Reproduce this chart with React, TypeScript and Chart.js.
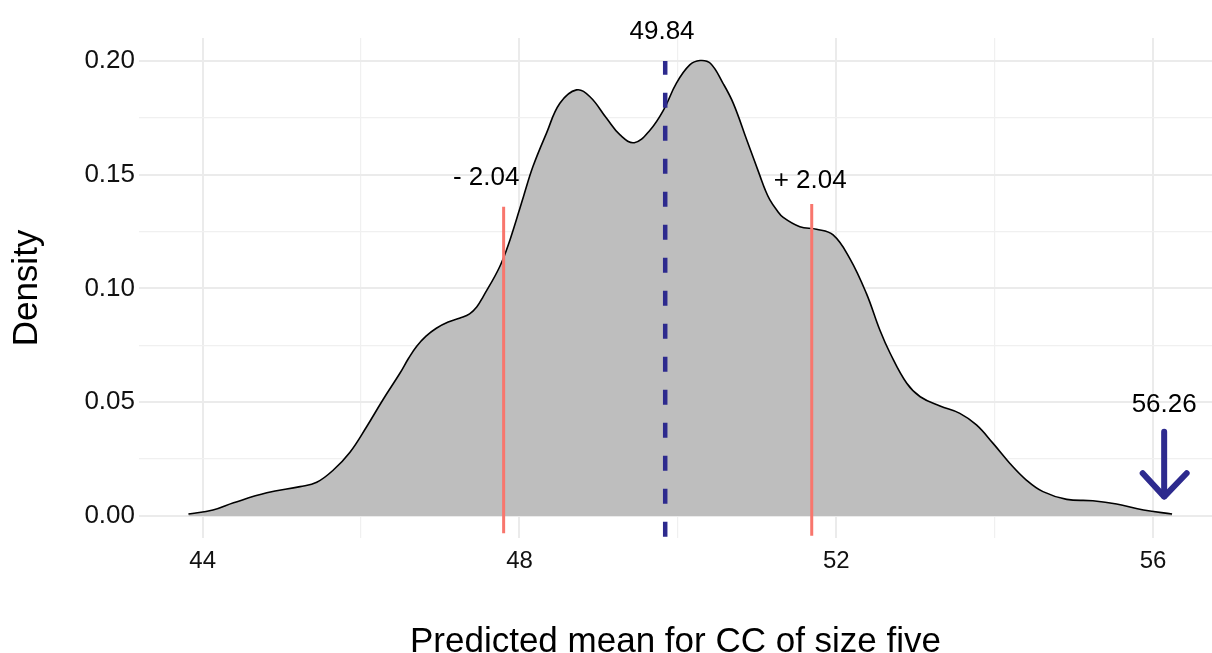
import React, { useEffect, useRef } from 'react';
import { Chart, registerables } from 'chart.js';

Chart.register(...registerables);

// Density curve
const densityX = [
  43.82, 44.13, 44.39, 44.81, 45.23, 45.44, 45.65, 45.86, 46.07, 46.28, 46.49, 46.60,
  46.70, 46.82, 46.95, 47.10, 47.25, 47.37, 47.46, 47.54, 47.75, 47.88, 48.05, 48.17,
  48.34, 48.51, 48.72, 48.89, 49.10, 49.27, 49.45, 49.65, 49.82, 49.98, 50.15, 50.28,
  50.41, 50.57, 50.70, 50.87, 51.04, 51.10, 51.16, 51.25, 51.33, 51.54, 51.75, 51.96,
  52.17, 52.38, 52.55, 52.68, 52.89, 53.06, 53.31, 53.56, 53.77, 53.98, 54.19, 54.40,
  54.61, 54.91, 55.24, 55.54, 55.88, 56.24,
];
const densityY = [
  0.0009, 0.0026, 0.0058, 0.0102, 0.0129, 0.0148, 0.0202, 0.0280, 0.0392, 0.0513, 0.0627, 0.0693,
  0.0745, 0.0790, 0.0825, 0.0852, 0.0870, 0.0888, 0.0918, 0.0963, 0.1095, 0.1213, 0.1403, 0.1535,
  0.1681, 0.1813, 0.1872, 0.1842, 0.1747, 0.1674, 0.1640, 0.1696, 0.1784, 0.1901, 0.1982, 0.2001,
  0.1989, 0.1901, 0.1813, 0.1652, 0.1491, 0.1435, 0.1390, 0.1343, 0.1312, 0.1271, 0.1260, 0.1235,
  0.1132, 0.0978, 0.0817, 0.0715, 0.0583, 0.0524, 0.0483, 0.0451, 0.0400, 0.0319, 0.0232, 0.0158,
  0.0107, 0.0073, 0.0067, 0.0053, 0.0026, 0.0009,
];

// Reference lines
const meanLineX = [49.84, 49.84];
const meanLineY = [-0.0091, 0.1999];
const lowerLineX = [47.8, 47.8];
const lowerLineY = [-0.0076, 0.1359];
const upperLineX = [51.69, 51.69];
const upperLineY = [-0.0087, 0.1371];

// Arrow marking 56.26
const arrowShaftX = [56.14, 56.14];
const arrowShaftY = [0.037, 0.0087];
const arrowHeadX = [55.869, 56.141, 56.424];
const arrowHeadY = [0.0188, 0.0085, 0.0188];

// Text annotations
const labelText = ['49.84', '- 2.04', '+ 2.04', '56.26'];
const labelX = [49.8, 47.58, 51.67, 56.14];
const labelY = [0.2094, 0.1454, 0.144, 0.0458];

// Axes
const xMajorTicks = [44, 48, 52, 56];
const xMinorTicks = [46, 50, 54];
const yMajorTicks = [0, 0.05, 0.1, 0.15, 0.2];
const yMinorTicks = [0.025, 0.075, 0.125, 0.175];
const xMin = 43.196;
const xMax = 56.744;
const yMin = -0.00967;
const yMax = 0.21;

const xTitle = 'Predicted mean for CC of size five';
const yTitle = 'Density';

const FONT = '"Liberation Sans", Arial, Helvetica, sans-serif';
const W = 1212;
const H = 670;

const pts = (xs: number[], ys: number[]) => xs.map((x, i) => ({ x, y: ys[i] }));
const isIn = (arr: number[], v: number) => arr.some((a) => Math.abs(a - v) < 1e-9);

const labelPlugin = {
  id: 'textLabels',
  afterDatasetsDraw(chart: any) {
    const { ctx, scales } = chart;
    const xs = scales.x;
    const ys = scales.y;
    ctx.save();
    ctx.font = `26px ${FONT}`;
    ctx.fillStyle = '#000000';
    ctx.textAlign = 'center';
    ctx.textBaseline = 'alphabetic';
    labelText.forEach((t, i) => {
      ctx.fillText(t, xs.getPixelForValue(labelX[i]), ys.getPixelForValue(labelY[i]));
    });
    ctx.restore();
  },
};

export default function App() {
  const ref = useRef<HTMLCanvasElement | null>(null);

  useEffect(() => {
    if (!ref.current) return;
    const lineBase = {
      type: 'line' as const,
      pointRadius: 0,
      pointHoverRadius: 0,
      fill: false,
      tension: 0,
    };
    const chart = new Chart(ref.current, {
      type: 'line',
      data: {
        datasets: [
          {
            ...lineBase,
            label: 'mean',
            data: pts(meanLineX, meanLineY),
            borderColor: '#2D2A8E',
            borderWidth: 4.5,
            borderDash: [15, 18],
            order: 1,
          },
          {
            ...lineBase,
            label: 'lower',
            data: pts(lowerLineX, lowerLineY),
            borderColor: '#F8766D',
            borderWidth: 3,
            order: 2,
          },
          {
            ...lineBase,
            label: 'upper',
            data: pts(upperLineX, upperLineY),
            borderColor: '#F8766D',
            borderWidth: 3,
            order: 2,
          },
          {
            ...lineBase,
            label: 'arrowShaft',
            data: pts(arrowShaftX, arrowShaftY),
            borderColor: '#2D2A8E',
            borderWidth: 6,
            borderCapStyle: 'round',
            order: 1,
          },
          {
            ...lineBase,
            label: 'arrowHead',
            data: pts(arrowHeadX, arrowHeadY),
            borderColor: '#2D2A8E',
            borderWidth: 6,
            borderCapStyle: 'round',
            borderJoinStyle: 'round',
            order: 1,
          },
          {
            ...lineBase,
            label: 'density',
            data: pts(densityX, densityY),
            borderColor: '#000000',
            borderWidth: 1.6,
            backgroundColor: '#BEBEBE',
            fill: 'origin',
            tension: 0.4,
            order: 10,
          },
        ],
      },
      options: {
        responsive: false,
        animation: false,
        events: [],
        layout: { padding: { top: 38, left: 0, right: 0, bottom: 0 } },
        plugins: {
          legend: { display: false },
          tooltip: { enabled: false },
        },
        scales: {
          x: {
            type: 'linear',
            min: xMin,
            max: xMax,
            border: { display: false },
            afterFit: (scale: any) => {
              scale.height = H - 538;
            },
            afterBuildTicks: (scale: any) => {
              scale.ticks = [...xMajorTicks, ...xMinorTicks]
                .sort((a, b) => a - b)
                .map((value) => ({ value }));
            },
            grid: {
              drawTicks: false,
              color: (ctx: any) => (ctx.tick && isIn(xMajorTicks, ctx.tick.value) ? '#EBEBEB' : '#F0F0F0'),
              lineWidth: (ctx: any) => (ctx.tick && isIn(xMajorTicks, ctx.tick.value) ? 2 : 1.2),
            },
            ticks: {
              autoSkip: false,
              maxRotation: 0,
              padding: 9,
              color: '#111111',
              font: { family: FONT, size: 24 },
              callback: (v: any) => (isIn(xMajorTicks, Number(v)) ? String(v) : ''),
            },
            title: {
              display: true,
              text: xTitle,
              color: '#000000',
              font: { family: FONT, size: 35 },
              padding: { top: 0, bottom: 7 },
            },
          },
          y: {
            type: 'linear',
            min: yMin,
            max: yMax,
            border: { display: false },
            afterFit: (scale: any) => {
              scale.width = 139;
            },
            afterBuildTicks: (scale: any) => {
              scale.ticks = [...yMajorTicks, ...yMinorTicks]
                .sort((a, b) => a - b)
                .map((value) => ({ value }));
            },
            grid: {
              drawTicks: false,
              color: (ctx: any) => (ctx.tick && isIn(yMajorTicks, ctx.tick.value) ? '#EBEBEB' : '#F0F0F0'),
              lineWidth: (ctx: any) => (ctx.tick && isIn(yMajorTicks, ctx.tick.value) ? 2 : 1.2),
            },
            ticks: {
              autoSkip: false,
              padding: 4,
              color: '#111111',
              font: { family: FONT, size: 26 },
              callback: (v: any) => (isIn(yMajorTicks, Number(v)) ? Number(v).toFixed(2) : ''),
            },
            title: {
              display: true,
              text: yTitle,
              color: '#000000',
              font: { family: FONT, size: 35 },
              padding: { top: 6, bottom: 0 },
            },
          },
        },
      },
      plugins: [labelPlugin],
    } as any);
    return () => chart.destroy();
  }, []);

  return (
    <div style={{ position: 'absolute', left: 0, top: 0, width: W, height: H, background: '#ffffff' }}>
      <canvas ref={ref} width={W} height={H} style={{ display: 'block', width: W, height: H }} />
    </div>
  );
}
